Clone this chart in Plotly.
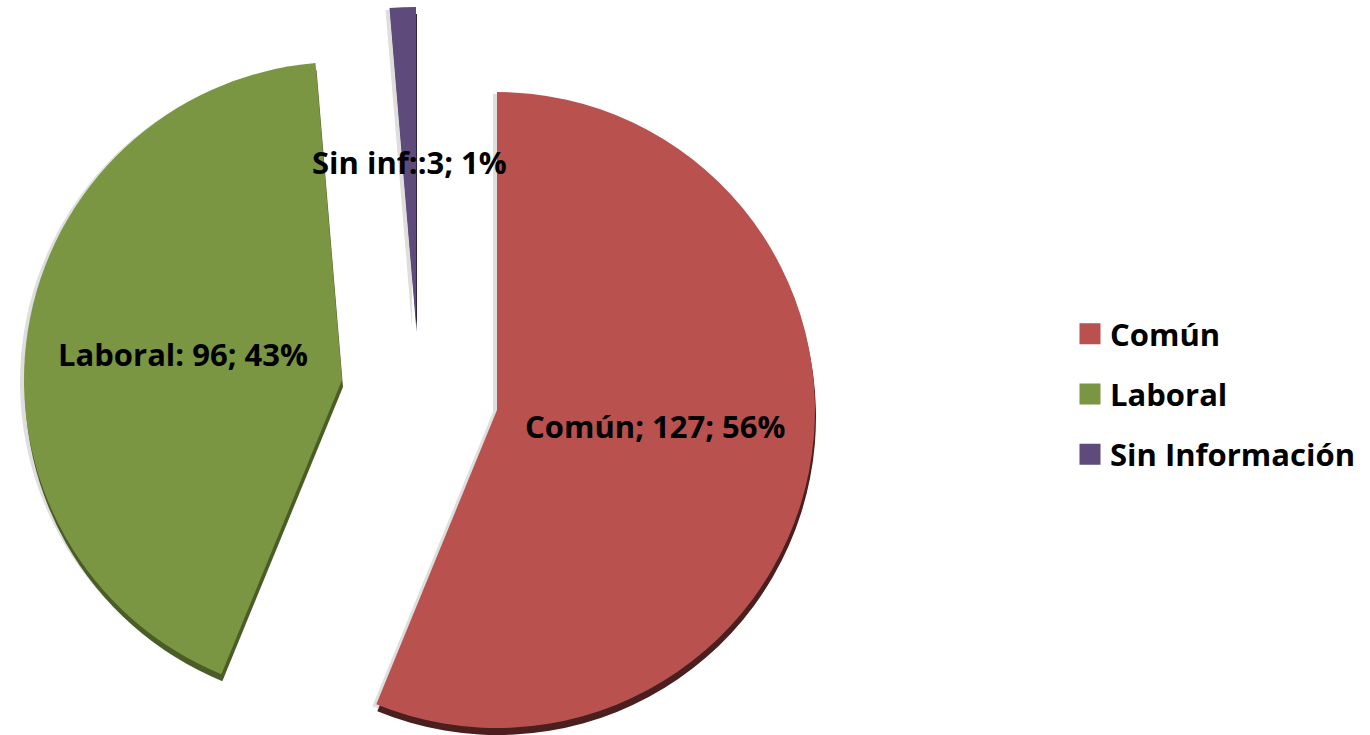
import plotly.graph_objects as go

# ---- data ----
categories = ["Común", "Laboral", "Sin Información"]
values = [127, 96, 3]
percents = [56, 43, 1]
label_prefix = ["Común; ", "Laboral: ", "Sin inf::"]

# ---- style ----
colors = ["#B9514E", "#7B9642", "#5E4A7B"]
rim_colors = ["#4C1F1F", "#4B5D27", "#2E2340"]
W, H = 1370, 735
R = 318
# exploded slice apex positions (pixels, from top-left)
apex = [(497, 410), (342, 380), (416, 325)]
label_pos = [(655, 426), (183, 354), (409, 162)]
FONT = "Open Sans"
FS = 31

def dom(cx, cy, r=R, dy=0):
    cy = cy + dy
    return dict(x=[(cx - r) / W, (cx + r) / W],
                y=[max(0.0, (H - cy - r) / H), min(1.0, (H - cy + r) / H)])

fig = go.Figure()

# soft shadow copies, shifted left
for i in range(len(values)):
    cols = ["rgba(0,0,0,0)"] * len(values)
    cols[i] = "rgba(0,0,0,0.13)"
    fig.add_trace(go.Pie(
        labels=categories, values=values, sort=False, direction="clockwise",
        rotation=0, marker=dict(colors=cols, line=dict(width=0)),
        textinfo="none", hoverinfo="skip", showlegend=False,
        domain=dom(apex[i][0] - 4, apex[i][1], dy=2)))

# rim (3D thickness) copies, shifted down
for i in range(len(values)):
    cols = ["rgba(0,0,0,0)"] * len(values)
    cols[i] = rim_colors[i]
    fig.add_trace(go.Pie(
        labels=categories, values=values, sort=False, direction="clockwise",
        rotation=0, marker=dict(colors=cols, line=dict(width=0)),
        textinfo="none", hoverinfo="skip", showlegend=False,
        domain=dom(apex[i][0] + 1, apex[i][1], dy=7)))

# top faces
for i in range(len(values)):
    cols = ["rgba(0,0,0,0)"] * len(values)
    cols[i] = colors[i]
    fig.add_trace(go.Pie(
        labels=categories, values=values, sort=False, direction="clockwise",
        rotation=0, marker=dict(colors=cols, line=dict(width=0)),
        textinfo="none", hoverinfo="skip", showlegend=False,
        domain=dom(*apex[i])))

# legend entries
for i, c in enumerate(categories):
    fig.add_trace(go.Scatter(
        x=[None], y=[None], mode="markers", name=c, legendgroup=c,
        marker=dict(symbol="square", size=16, color=colors[i],
                    line=dict(width=5, color=colors[i]))))

for i in range(len(values)):
    fig.add_annotation(
        x=label_pos[i][0] / W, y=1 - label_pos[i][1] / H, xref="paper", yref="paper",
        text=f"{label_prefix[i]}{values[i]}; {percents[i]}%", showarrow=False,
        xanchor="center", yanchor="middle",
        font=dict(family=FONT, size=FS, color="black", weight="bold"))

fig.update_layout(
    width=W, height=H, margin=dict(l=0, r=0, t=0, b=0, autoexpand=False),
    paper_bgcolor="white", plot_bgcolor="white",
    xaxis=dict(visible=False), yaxis=dict(visible=False),
    legend=dict(x=1070 / W, y=1 - 394 / H, xref="container", yref="container",
                xanchor="left", yanchor="middle", tracegroupgap=17,
                font=dict(family=FONT, size=FS, color="black", weight="bold"),
                bgcolor="rgba(0,0,0,0)"),
    showlegend=True,
)

fig.write_html("out.html")
